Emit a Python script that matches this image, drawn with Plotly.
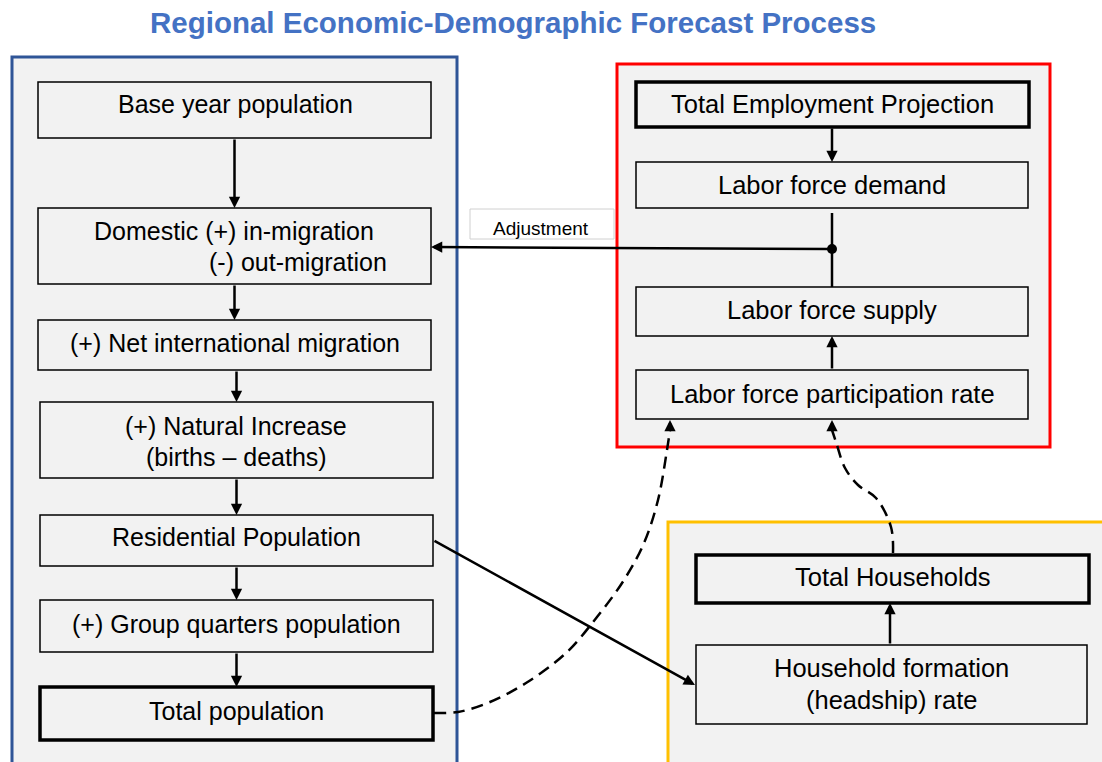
import plotly.graph_objects as go

# flowchart: regional economic-demographic forecast process
FONT = "Arial, 'Liberation Sans', sans-serif"

title_text = "Regional Economic-Demographic Forecast Process"

# box labels (one list entry per text line)
left_labels = [
    ["Base year population"],
    ["Domestic (+) in-migration", "(-) out-migration"],
    ["(+) Net international migration"],
    ["(+) Natural Increase", "(births \u2013 deaths)"],
    ["Residential Population"],
    ["(+) Group quarters population"],
    ["Total population"],
]
right_labels = [
    ["Total Employment Projection"],
    ["Labor force demand"],
    ["Labor force supply"],
    ["Labor force participation rate"],
]
yellow_labels = [
    ["Total Households"],
    ["Household formation", "(headship) rate"],
]
adjust_label = "Adjustment"

# geometry (pixels, y down)
left_x = [(38, 431), (38, 431), (38, 431), (40, 433), (40, 433), (40, 433), (40, 433)]
left_y = [(82, 138), (208, 284), (320, 370), (402, 478), (515, 566), (600, 652), (687, 740)]
left_thick = [False, False, False, False, False, False, True]
left_text_y = [[104], [231, 262], [343], [426, 457], [537], [624], [711]]
left_text_x = [[235], [234, 298], [235], [236], [236], [236], [236]]

right_x = [(636, 1029), (636, 1028), (636, 1028), (636, 1028)]
right_y = [(82, 127), (162, 208), (287, 336), (370, 419)]
right_thick = [True, False, False, False]
right_text_y = [[104], [185], [310], [394]]

yellow_x = [(696, 1089), (696, 1087)]
yellow_y = [(555, 603), (645, 724)]
yellow_thick = [True, False]
yellow_text_y = [[577], [668, 700]]

# dashed connectors
dash1_x = [434, 458, 490, 526, 566, 597, 624, 644, 658, 667, 670]
dash1_y = [713, 712, 702, 683, 653, 617, 580, 543, 500, 450, 430]
dash2_x = [893, 891, 876, 858, 845, 836, 832]
dash2_y = [553, 527, 498, 485, 468, 442, 430]

shapes = []
annotations = []


def rect(x0, y0, x1, y1, color, width, fill="#F2F2F2"):
    shapes.append(dict(type="rect", xref="x", yref="y", x0=x0, y0=y0, x1=x1, y1=y1,
                       line=dict(color=color, width=width), fillcolor=fill, layer="below"))


def arrow(x0, y0, x1, y1, width=2.5):
    annotations.append(dict(x=x1, y=y1, ax=x0, ay=y0, xref="x", yref="y", axref="x", ayref="y",
                            text="", showarrow=True, arrowhead=2, arrowsize=0.9,
                            arrowwidth=width, arrowcolor="black", standoff=0))


def label(x, y, txt, size=25):
    annotations.append(dict(x=x, y=y, xref="x", yref="y", text=txt, showarrow=False,
                            font=dict(family=FONT, size=size, color="black"),
                            xanchor="center", yanchor="middle"))


# containers
rect(12, 57, 457, 775, "#2F5597", 3)
rect(617, 64, 1050, 447, "#FF0000", 3)
rect(668, 522, 1115, 775, "#FFC000", 3)

for xs, ys, thick, lines, ty, tx in zip(left_x, left_y, left_thick, left_labels, left_text_y, left_text_x):
    rect(xs[0], ys[0], xs[1], ys[1], "black", 3.5 if thick else 1.5)
    for i, ln in enumerate(lines):
        label(tx[min(i, len(tx) - 1)], ty[i], ln)

for xs, ys, thick, lines, ty in zip(right_x, right_y, right_thick, right_labels, right_text_y):
    rect(xs[0], ys[0], xs[1], ys[1], "black", 3.5 if thick else 1.5)
    for i, ln in enumerate(lines):
        label((xs[0] + xs[1]) / 2, ty[i], ln, size=25.5)

for xs, ys, thick, lines, ty in zip(yellow_x, yellow_y, yellow_thick, yellow_labels, yellow_text_y):
    rect(xs[0], ys[0], xs[1], ys[1], "black", 3.5 if thick else 1.5)
    for i, ln in enumerate(lines):
        label((xs[0] + xs[1]) / 2, ty[i], ln, size=25.5)

# adjustment label box
rect(470, 209, 614, 239, "#D0D0D0", 1, fill="white")
label(541, 228, adjust_label, size=19)

# left column arrows
for i in range(len(left_y) - 1):
    cx = (left_x[i + 1][0] + left_x[i + 1][1]) / 2
    arrow(cx, left_y[i][1], cx, left_y[i + 1][0])

# right column
arrow(832, right_y[0][1], 832, right_y[1][0])
shapes.append(dict(type="line", xref="x", yref="y", x0=832, y0=213, x1=832, y1=right_y[2][0],
                   line=dict(color="black", width=2.5)))
arrow(832, right_y[3][0], 832, right_y[2][1])
arrow(832, 249, left_x[1][1], 247)

# yellow column
arrow(890, yellow_y[1][0], 890, yellow_y[0][1])

# residential -> household formation
arrow(left_x[4][1], 540, yellow_x[1][0] - 1, 685)

fig = go.Figure()
fig.add_trace(go.Scatter(x=dash1_x, y=dash1_y, mode="lines", line=dict(color="black", width=2.5, dash="12px,7px", shape="spline"), hoverinfo="skip"))
fig.add_trace(go.Scatter(x=dash2_x, y=dash2_y, mode="lines", line=dict(color="black", width=2.5, dash="12px,7px", shape="spline"), hoverinfo="skip"))
fig.add_trace(go.Scatter(x=[832], y=[249], mode="markers", marker=dict(color="black", size=10), hoverinfo="skip"))

# arrowheads at the end of dashed connectors
arrow(dash1_x[-1], dash1_y[-1], 670, 420)
arrow(dash2_x[-1], dash2_y[-1], 832, 420)

annotations.append(dict(x=513, y=22, xref="x", yref="y", text="<b>" + title_text + "</b>", showarrow=False,
                        font=dict(family=FONT, size=29.5, color="#4472C4"), xanchor="center", yanchor="middle"))

fig.update_layout(
    width=1102, height=762,
    margin=dict(l=0, r=0, t=0, b=0),
    paper_bgcolor="white", plot_bgcolor="white",
    showlegend=False,
    xaxis=dict(range=[0, 1102], visible=False, fixedrange=True),
    yaxis=dict(range=[762, 0], visible=False, fixedrange=True),
    shapes=shapes,
    annotations=annotations,
    hovermode=False,
)

fig.write_html("out.html", config={"displayModeBar": False},
               post_script="document.body.style.margin='0';document.body.style.overflow='hidden';")
